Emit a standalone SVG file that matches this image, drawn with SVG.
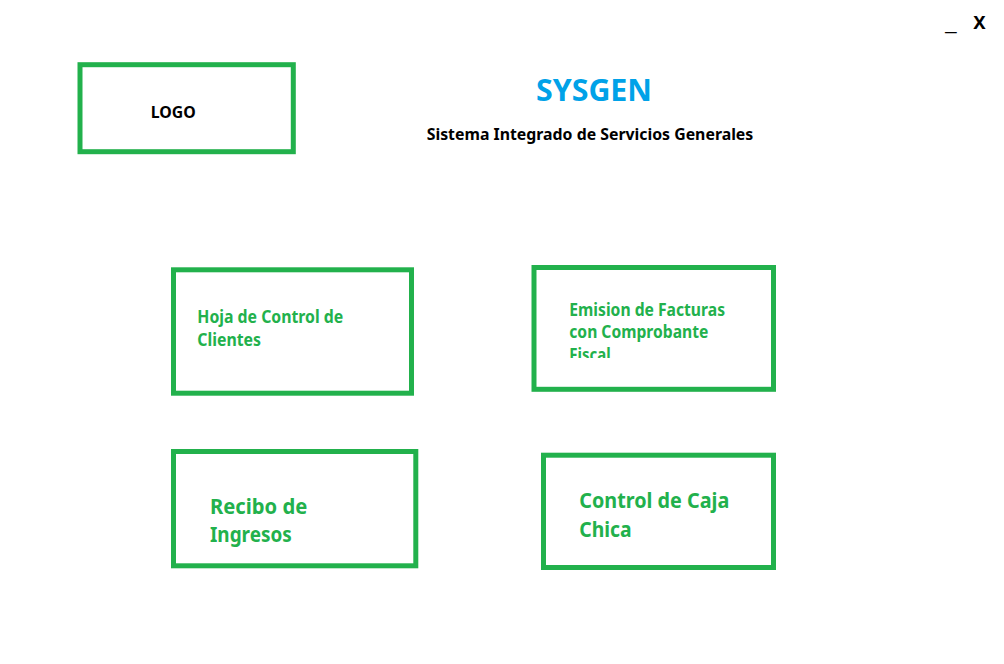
<svg xmlns="http://www.w3.org/2000/svg" width="1004" height="664" viewBox="0 0 1004 664">
<style>
.box{fill:none;stroke:#22B14C;stroke-width:5}
.t{font-family:"Noto Sans","Open Sans","Liberation Sans",sans-serif;font-weight:bold}
.g{fill:#22B14C}
.k{fill:#000000}
</style>
<defs>
<clipPath id="clipFiscal"><rect x="540" y="290" width="220" height="68"/></clipPath>
</defs>
<rect width="1004" height="664" fill="#ffffff"/>
<g id="window-controls">
<text class="t k" x="945" y="30" font-size="18" textLength="11.7" lengthAdjust="spacingAndGlyphs">_</text>
<text class="t k" x="973.3" y="29.3" font-size="18.6" textLength="12.4" lengthAdjust="spacingAndGlyphs">X</text>
</g>
<g id="logo">
<rect class="box" x="80" y="64.7" width="213.3" height="87"/>
<text class="t k" x="150.7" y="117.7" font-size="16.4" textLength="45" lengthAdjust="spacingAndGlyphs">LOGO</text>
</g>
<g id="title">
<text class="t" fill="#00A2E8" x="536" y="100.7" font-size="31.2" textLength="116" lengthAdjust="spacingAndGlyphs">SYSGEN</text>
<text class="t k" x="426.7" y="140" font-size="16.4" textLength="326.6" lengthAdjust="spacingAndGlyphs">Sistema Integrado de Servicios Generales</text>
</g>
<g id="connectors"/>
<g id="hoja">
<rect class="box" x="173.5" y="269.8" width="238" height="123.4"/>
<text class="t g" x="197.3" y="323.3" font-size="17.2" textLength="146" lengthAdjust="spacingAndGlyphs">Hoja de Control de</text>
<text class="t g" x="197.3" y="345.7" font-size="17.2" textLength="63.7" lengthAdjust="spacingAndGlyphs">Clientes</text>
</g>
<g id="emision">
<rect class="box" x="534" y="267.5" width="239.5" height="121.8"/>
<text class="t g" x="569.3" y="315.7" font-size="17.4" textLength="155.7" lengthAdjust="spacingAndGlyphs">Emision de Facturas</text>
<text class="t g" x="569.3" y="338.3" font-size="17.4" textLength="139" lengthAdjust="spacingAndGlyphs">con Comprobante</text>
<text class="t g" x="569.3" y="361" font-size="17.4" textLength="41.4" lengthAdjust="spacingAndGlyphs" clip-path="url(#clipFiscal)">Fiscal</text>
</g>
<g id="recibo">
<rect class="box" x="173.5" y="451.5" width="242.3" height="114.3"/>
<text class="t g" x="210" y="514" font-size="20.6" textLength="97.3" lengthAdjust="spacingAndGlyphs">Recibo de</text>
<text class="t g" x="210" y="542.3" font-size="20.6" textLength="81.7" lengthAdjust="spacingAndGlyphs">Ingresos</text>
</g>
<g id="caja">
<rect class="box" x="543.5" y="455.2" width="230" height="112.3"/>
<text class="t g" x="579.3" y="507.7" font-size="21" textLength="150" lengthAdjust="spacingAndGlyphs">Control de Caja</text>
<text class="t g" x="579.3" y="536.7" font-size="21" textLength="52.4" lengthAdjust="spacingAndGlyphs">Chica</text>
</g>
</svg>
